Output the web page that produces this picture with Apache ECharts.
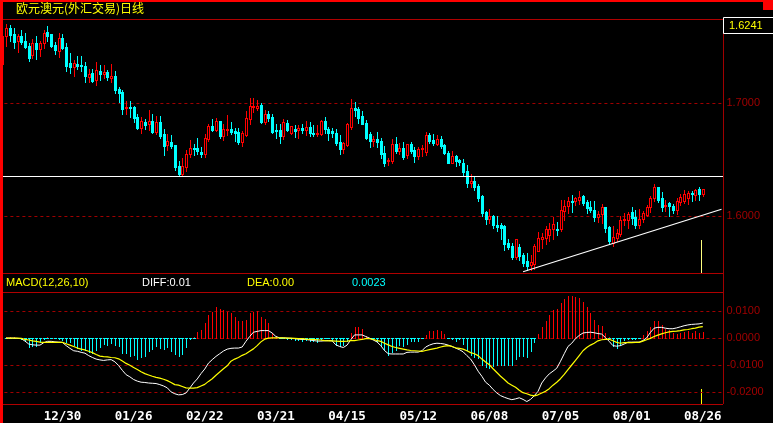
<!DOCTYPE html>
<html>
<head>
    <meta charset="UTF-8">
    <title>欧元澳元</title>
    <script src="https://cdn.jsdelivr.net/npm/echarts@6/dist/echarts.min.js"></script>
    <style>html,body{margin:0;padding:0;background:#000;}</style>
</head>
<body>
    <div id="main" style="width:773px;height:423px;"></div>
    <script>
        var opens = [
            1.7596,1.7664,1.7611,1.7546,1.7593,1.7549,1.7504,1.7428,1.7531,1.7478,
            1.7534,1.7628,1.7611,1.7513,1.7463,1.7575,1.7496,1.7354,1.7322,1.7345,
            1.7336,1.7327,1.7227,1.7265,1.7204,1.7283,1.7257,1.7274,1.7224,1.7239,
            1.7124,1.7097,1.6959,1.6965,1.6965,1.6876,1.6779,1.6832,1.6811,1.6841,
            1.6743,1.6832,1.6726,1.6628,1.6655,1.6628,1.6443,1.6372,1.6434,1.6549,
            1.6602,1.6602,1.6566,1.6549,1.6681,1.6796,1.6761,1.6841,1.6708,1.6761,
            1.6770,1.6752,1.6743,1.6655,1.6717,1.6858,1.6965,1.6959,1.6982,1.6832,
            1.6903,1.6876,1.6761,1.6761,1.6708,1.6823,1.6734,1.6767,1.6761,1.6779,
            1.6761,1.6788,1.6734,1.6728,1.6726,1.6841,1.6770,1.6752,1.6734,1.6655,
            1.6593,1.6628,1.6788,1.6956,1.6947,1.6885,1.6823,1.6726,1.6664,1.6681,
            1.6664,1.6557,1.6487,1.6487,1.6637,1.6575,1.6602,1.6540,1.6637,1.6584,
            1.6531,1.6593,1.6566,1.6717,1.6673,1.6637,1.6681,1.6628,1.6557,1.6469,
            1.6531,1.6496,1.6469,1.6398,1.6292,1.6310,1.6265,1.6177,1.6035,1.5973,
            1.6000,1.5920,1.5920,1.5911,1.5761,1.5734,1.5637,1.5726,1.5655,1.5602,
            1.5566,1.5575,1.5690,1.5796,1.5805,1.5832,1.5885,1.5885,1.5885,1.6044,
            1.6088,1.6133,1.6133,1.6142,1.6177,1.6124,1.6080,1.6053,1.5991,1.6018,
            1.6080,1.5902,1.5761,1.5805,1.5841,1.5964,1.5964,1.6035,1.5991,1.5920,
            1.5973,1.6009,1.6080,1.6159,1.6257,1.6159,1.6088,1.6115,1.6088,1.6053,
            1.6124,1.6133,1.6159,1.6203,1.6186,1.6239,1.6195
        ];
        var closes = [
            1.7661,1.7602,1.7540,1.7593,1.7540,1.7496,1.7398,1.7528,1.7478,1.7531,
            1.7617,1.7593,1.7507,1.7469,1.7575,1.7484,1.7327,1.7319,1.7351,1.7327,
            1.7330,1.7239,1.7257,1.7195,1.7292,1.7257,1.7274,1.7227,1.7239,1.7115,
            1.7088,1.6947,1.6968,1.6959,1.6867,1.6779,1.6841,1.6805,1.6841,1.6740,
            1.6832,1.6708,1.6619,1.6664,1.6619,1.6434,1.6372,1.6443,1.6549,1.6602,
            1.6593,1.6575,1.6549,1.6690,1.6796,1.6761,1.6841,1.6708,1.6770,1.6770,
            1.6743,1.6734,1.6655,1.6734,1.6867,1.6973,1.6973,1.6976,1.6832,1.6903,
            1.6867,1.6743,1.6752,1.6708,1.6832,1.6761,1.6796,1.6755,1.6776,1.6761,
            1.6788,1.6734,1.6726,1.6734,1.6841,1.6770,1.6734,1.6737,1.6646,1.6593,
            1.6646,1.6814,1.6956,1.6938,1.6867,1.6814,1.6690,1.6664,1.6681,1.6655,
            1.6549,1.6469,1.6496,1.6637,1.6575,1.6602,1.6522,1.6637,1.6575,1.6531,
            1.6593,1.6602,1.6717,1.6664,1.6646,1.6681,1.6619,1.6557,1.6469,1.6531,
            1.6487,1.6481,1.6389,1.6292,1.6310,1.6257,1.6159,1.6027,1.5973,1.6000,
            1.5920,1.5903,1.5894,1.5752,1.5726,1.5637,1.5796,1.5646,1.5584,1.5557,
            1.5593,1.5734,1.5805,1.5814,1.5885,1.5885,1.5929,1.5876,1.6053,1.6088,
            1.6133,1.6124,1.6159,1.6168,1.6115,1.6071,1.6053,1.5991,1.6018,1.6080,
            1.5894,1.5779,1.5814,1.5849,1.5964,1.5973,1.6018,1.5982,1.5920,1.5973,
            1.6027,1.6080,1.6159,1.6257,1.6142,1.6080,1.6097,1.6088,1.6053,1.6133,
            1.6168,1.6195,1.6203,1.6195,1.6230,1.6195,1.6241
        ];
        var lows = [
            1.7504,1.7552,1.7484,1.7454,1.7522,1.7484,1.7372,1.7395,1.7389,1.7419,
            1.7487,1.7549,1.7499,1.7434,1.7407,1.7475,1.7283,1.7268,1.7239,1.7301,
            1.7283,1.7186,1.7189,1.7186,1.7159,1.7204,1.7221,1.7204,1.7186,1.7088,
            1.7009,1.6903,1.6903,1.6879,1.6832,1.6770,1.6734,1.6770,1.6761,1.6734,
            1.6726,1.6690,1.6540,1.6584,1.6602,1.6407,1.6354,1.6354,1.6398,1.6522,
            1.6540,1.6549,1.6522,1.6522,1.6664,1.6752,1.6752,1.6690,1.6673,1.6717,
            1.6726,1.6664,1.6637,1.6619,1.6708,1.6814,1.6920,1.6938,1.6820,1.6814,
            1.6841,1.6734,1.6690,1.6646,1.6681,1.6752,1.6726,1.6699,1.6690,1.6734,
            1.6717,1.6708,1.6708,1.6708,1.6717,1.6734,1.6673,1.6699,1.6628,1.6549,
            1.6558,1.6619,1.6770,1.6885,1.6823,1.6814,1.6681,1.6611,1.6619,1.6611,
            1.6513,1.6443,1.6451,1.6469,1.6557,1.6549,1.6504,1.6513,1.6557,1.6478,
            1.6504,1.6531,1.6540,1.6646,1.6628,1.6628,1.6602,1.6549,1.6469,1.6469,
            1.6443,1.6451,1.6354,1.6257,1.6257,1.6230,1.6133,1.6000,1.5929,1.5938,
            1.5894,1.5867,1.5797,1.5699,1.5708,1.5619,1.5619,1.5611,1.5557,1.5522,
            1.5522,1.5531,1.5690,1.5717,1.5752,1.5779,1.5796,1.5832,1.5867,1.5964,
            1.6027,1.6035,1.6097,1.6106,1.6097,1.6027,1.6035,1.5956,1.5947,1.5938,
            1.5858,1.5752,1.5734,1.5779,1.5823,1.5920,1.5894,1.5929,1.5894,1.5894,
            1.5947,1.6000,1.6035,1.6133,1.6124,1.6044,1.6044,1.6000,1.6027,1.6018,
            1.6097,1.6115,1.6106,1.6133,1.6142,1.6142,1.6177
        ];
        var highs = [
            1.7699,1.7690,1.7661,1.7611,1.7646,1.7620,1.7528,1.7566,1.7593,1.7546,
            1.7646,1.7681,1.7611,1.7543,1.7620,1.7611,1.7531,1.7440,1.7381,1.7416,
            1.7416,1.7363,1.7298,1.7298,1.7363,1.7336,1.7336,1.7292,1.7345,1.7283,
            1.7139,1.7115,1.7018,1.7018,1.6973,1.6903,1.6876,1.6858,1.6938,1.6903,
            1.6885,1.6885,1.6770,1.6726,1.6717,1.6628,1.6487,1.6513,1.6584,1.6673,
            1.6637,1.6690,1.6611,1.6726,1.6814,1.6858,1.6867,1.6841,1.6814,1.6894,
            1.6832,1.6779,1.6779,1.6752,1.6929,1.7044,1.7044,1.7027,1.6997,1.6938,
            1.6929,1.6903,1.6814,1.6814,1.6858,1.6850,1.6796,1.6805,1.6805,1.6814,
            1.6841,1.6832,1.6805,1.6805,1.6850,1.6876,1.6788,1.6779,1.6770,1.6717,
            1.6655,1.6823,1.7035,1.7009,1.6965,1.6929,1.6850,1.6743,1.6708,1.6743,
            1.6690,1.6619,1.6513,1.6681,1.6699,1.6646,1.6655,1.6637,1.6655,1.6611,
            1.6611,1.6628,1.6743,1.6734,1.6726,1.6717,1.6708,1.6637,1.6575,1.6575,
            1.6540,1.6504,1.6504,1.6451,1.6372,1.6345,1.6283,1.6186,1.6044,1.6062,
            1.6009,1.6000,1.5935,1.5920,1.5796,1.5761,1.5796,1.5752,1.5672,1.5672,
            1.5655,1.5752,1.5858,1.5849,1.5911,1.5938,1.5991,1.5947,1.6142,1.6142,
            1.6168,1.6186,1.6168,1.6221,1.6186,1.6142,1.6133,1.6133,1.6044,1.6106,
            1.6080,1.5911,1.5911,1.5885,1.6000,1.6027,1.6035,1.6080,1.6053,1.6062,
            1.6044,1.6097,1.6177,1.6283,1.6257,1.6212,1.6142,1.6124,1.6106,1.6159,
            1.6195,1.6230,1.6221,1.6221,1.6239,1.6257,1.6241
        ];
        var macdHist = [
            .0005,.0005,.0004,.0002,-.0002,-.0009,-.0033,-.0028,-.0028,-.0014,
            -.0002,.0004,-.0001,-.0001,-.0004,-.0006,-.0016,-.0014,-.0025,-.0035,
            -.0043,-.0046,-.0053,-.0056,-.0043,-.0033,-.0023,-.0026,-.0019,-.0025,
            -.0031,-.0056,-.0056,-.0065,-.0062,-.0077,-.0070,-.0065,-.0049,-.0041,
            -.0028,-.0037,-.0041,-.0033,-.0049,-.0058,-.0065,-.0058,-.0033,-.0004,
            .0005,.0023,.0031,.0056,.0086,.0099,.0115,.0107,.0105,.0099,
            .0095,.0080,.0064,.0065,.0068,.0093,.0099,.0101,.0078,.0070,
            .0058,.0019,.0009,.0002,-.0001,-.0004,-.0005,-.0006,-.0006,-.0009,
            -.0006,-.0012,-.0009,-.0015,-.0002,-.0001,-.0001,-.0006,-.0025,-.0028,
            -.0025,-.0009,.0019,.0041,.0041,.0033,.0009,.0001,-.0002,-.0012,
            -.0025,-.0043,-.0062,-.0053,-.0043,-.0025,-.0031,-.0021,-.0012,-.0011,
            -.0009,.0001,.0012,.0025,.0027,.0031,.0028,.0015,.0001,-.0002,
            -.0012,-.0002,-.0021,-.0043,-.0062,-.0070,-.0074,-.0099,-.0109,-.0111,
            -.0105,-.0099,-.0101,-.0101,-.0101,-.0101,-.0077,-.0068,-.0068,-.0070,
            -.0049,-.0016,.0015,.0041,.0062,.0086,.0105,.0107,.0130,.0144,
            .0157,.0157,.0154,.0148,.0136,.0115,.0095,.0068,.0049,.0046,
            .0019,.0006,-.0031,-.0037,-.0025,-.0006,-.0005,-.0004,-.0002,-.0001,
            .0012,.0025,.0043,.0064,.0062,.0049,.0033,.0031,.0019,.0016,
            .0019,.0022,.0027,.0019,.0025,.0019,.0023
        ];
        var macdDiff = [
            .0000,.0000,.0000,-.0001,-.0002,-.0011,-.0022,-.0025,-.0026,-.0026,
            -.0017,-.0012,-.0012,-.0014,-.0015,-.0016,-.0028,-.0038,-.0047,-.0049,
            -.0053,-.0056,-.0065,-.0072,-.0078,-.0081,-.0083,-.0081,-.0080,-.0088,
            -.0102,-.0120,-.0136,-.0144,-.0154,-.0160,-.0164,-.0165,-.0167,-.0168,
            -.0169,-.0173,-.0178,-.0185,-.0200,-.0207,-.0211,-.0210,-.0204,-.0186,
            -.0167,-.0152,-.0132,-.0115,-.0093,-.0080,-.0068,-.0058,-.0048,-.0041,
            -.0038,-.0037,-.0037,-.0033,-.0012,.0006,.0022,.0025,.0028,.0028,
            .0028,.0019,.0006,.0001,.0001,.0000,-.0001,-.0002,-.0004,-.0005,
            -.0005,-.0007,-.0009,-.0011,-.0011,-.0010,-.0009,-.0010,-.0025,-.0031,
            -.0035,-.0026,-.0006,.0012,.0012,.0012,.0006,.0000,-.0007,-.0014,
            -.0028,-.0046,-.0058,-.0059,-.0059,-.0059,-.0059,-.0053,-.0052,-.0052,
            -.0052,-.0047,-.0033,-.0026,-.0021,-.0019,-.0020,-.0022,-.0026,-.0031,
            -.0037,-.0043,-.0051,-.0065,-.0078,-.0099,-.0123,-.0142,-.0164,-.0175,
            -.0191,-.0204,-.0214,-.0220,-.0225,-.0229,-.0226,-.0222,-.0228,-.0236,
            -.0228,-.0214,-.0198,-.0167,-.0148,-.0133,-.0123,-.0112,-.0086,-.0058,
            -.0031,-.0019,-.0002,.0010,.0019,.0021,.0022,.0020,.0017,.0015,
            .0002,-.0012,-.0028,-.0030,-.0028,-.0022,-.0015,-.0015,-.0015,-.0015,
            -.0009,.0001,.0021,.0037,.0040,.0040,.0037,.0035,.0035,.0038,
            .0042,.0046,.0049,.0051,.0052,.0053,.0056
        ];
        var macdDea = [
            .0000,.0000,.0000,.0000,-.0001,-.0005,-.0007,-.0010,-.0012,-.0015,
            -.0016,-.0016,-.0016,-.0016,-.0016,-.0016,-.0021,-.0026,-.0031,-.0037,
            -.0041,-.0044,-.0049,-.0054,-.0061,-.0067,-.0069,-.0070,-.0072,-.0073,
            -.0077,-.0085,-.0094,-.0101,-.0109,-.0117,-.0125,-.0132,-.0137,-.0142,
            -.0146,-.0149,-.0153,-.0158,-.0165,-.0173,-.0175,-.0180,-.0185,-.0186,
            -.0186,-.0184,-.0178,-.0172,-.0161,-.0151,-.0138,-.0126,-.0114,-.0103,
            -.0086,-.0078,-.0072,-.0064,-.0058,-.0049,-.0040,-.0028,-.0014,-.0004,
            .0000,.0001,.0001,.0001,.0001,.0000,.0000,-.0001,-.0002,-.0002,
            -.0004,-.0005,-.0005,-.0006,-.0007,-.0009,-.0010,-.0010,-.0011,-.0012,
            -.0012,-.0011,-.0009,-.0009,-.0007,-.0005,-.0002,-.0002,-.0005,-.0009,
            -.0012,-.0019,-.0025,-.0031,-.0035,-.0038,-.0041,-.0044,-.0046,-.0047,
            -.0048,-.0049,-.0046,-.0043,-.0040,-.0037,-.0033,-.0030,-.0028,-.0031,
            -.0036,-.0038,-.0041,-.0047,-.0054,-.0058,-.0065,-.0078,-.0089,-.0099,
            -.0114,-.0128,-.0142,-.0154,-.0167,-.0175,-.0183,-.0194,-.0203,-.0207,
            -.0212,-.0215,-.0211,-.0204,-.0198,-.0188,-.0175,-.0164,-.0151,-.0135,
            -.0117,-.0100,-.0083,-.0065,-.0047,-.0035,-.0026,-.0019,-.0010,-.0006,
            -.0005,-.0004,-.0010,-.0016,-.0019,-.0017,-.0017,-.0017,-.0016,-.0016,
            -.0011,-.0006,-.0001,.0006,.0011,.0016,.0020,.0023,.0025,.0026,
            .0028,.0031,.0032,.0035,.0037,.0041,.0043
        ];
        var dateLabels = ['12/30','01/26','02/22','03/21','04/15','05/12','06/08','07/05','08/01','08/26'];
        var priceTicks = [1.7, 1.6];
        var macdTicks = [0.01, 0, -0.01, -0.02];
        var supportLevel = 1.6354;

        // 192 slots, a date shows every 19 bars starting at bar 15
        var categories = [];
        for (var i = 0; i < 192; i++) {
            var k = (i - 15) / 19;
            categories.push(k >= 0 && k === Math.floor(k) && dateLabels[k] ? dateLabels[k] : '');
        }
        var candleData = [];
        for (var j = 0; j < opens.length; j++) {
            candleData.push([j, opens[j], closes[j], lows[j], highs[j]]);
        }
        var histData = macdHist.map(function (v, n) { return [n, v]; });

        function box(x, y, w, h, color) {
            return { type: 'rect', shape: { x: x, y: y, width: w, height: h }, style: { fill: color } };
        }
        // candles and histogram go through custom series so they land on whole pixels
        function renderCandle(params, api) {
            var idx = api.value(0), up = api.value(2) >= api.value(1);
            var color = up ? '#ff0000' : '#00ffff';
            var xc = Math.round(api.coord([idx, api.value(1)])[0]);
            var yOpen = Math.round(api.coord([idx, api.value(1)])[1]);
            var yClose = Math.round(api.coord([idx, api.value(2)])[1]);
            var yLow = Math.round(api.coord([idx, api.value(3)])[1]);
            var yHigh = Math.round(api.coord([idx, api.value(4)])[1]);
            var top = Math.min(yOpen, yClose), h = Math.abs(yOpen - yClose) + 1;
            var kids = [box(xc, yHigh, 1, yLow - yHigh + 1, color), box(xc - 1, top, 3, h, color)];
            if (up && h > 2) kids.push(box(xc, top + 1, 1, h - 2, '#000'));
            return { type: 'group', children: kids };
        }
        function renderHist(params, api) {
            var v = api.value(1);
            var p = api.coord([api.value(0), v]), base = api.coord([api.value(0), 0]);
            var x = Math.round(p[0]), y0 = Math.round(base[1]), y1 = Math.round(p[1]);
            var kids = [box(x, Math.min(y0, y1), 1, Math.abs(y1 - y0) + 1, v >= 0 ? '#ff0000' : '#00ffff')];
            // the cyan dash on the zero line
            if (v <= 0.0006) kids.push(box(x - 1, y0, 3, 1, '#00ffff'));
            return { type: 'group', children: kids };
        }

        var darkRed = '#a00000';
        var hLines = [19, 273, 292, 404];
        var frame = [
            box(0, 0, 773, 2, '#f00'),
            box(0, 0, 3, 423, '#f00'),
            box(3, 36, 1, 29, '#f00'),
            box(763, 2, 10, 8, '#f00'),
            box(723, 19, 1, 385, darkRed),
            { type: 'rect', shape: { x: 723.5, y: 17.5, width: 50, height: 16 }, style: { fill: '#000', stroke: '#fff', lineWidth: 1 } },
            box(701, 240, 1, 33, '#ffff80'),
            box(701, 389, 1, 15, '#ffff00')
        ];
        hLines.forEach(function (y) {
            frame.push(box(3, y, 720, 1, '#b00000'));
        });
        var labelFont = '11px "Liberation Sans"';
        function label(x, y, text, color, font) {
            return { type: 'text', x: x, y: y, style: { text: text, fill: color, font: font || labelFont, textVerticalAlign: 'middle' } };
        }
        frame.push(label(16, 8, '欧元澳元(外汇交易)日线', '#ffff00', '12px "Noto Sans CJK SC"'));
        frame.push(label(729, 26, closes[closes.length - 1].toFixed(4), '#ffff00'));
        frame.push(label(6, 283, 'MACD(12,26,10)', '#ffff00'));
        frame.push(label(142, 283, 'DIFF:0.01', '#ffffff'));
        frame.push(label(247, 283, 'DEA:0.00', '#ffff00'));
        frame.push(label(352, 283, '0.0023', '#00ffff'));

        var chartDemo = echarts.init(document.getElementById('main'));
        chartDemo.setOption({
            animation: false,
            backgroundColor: '#000',
            grid: [
                { left: 4.4, width: 719, top: 19, height: 254 },
                { left: 4.4, width: 719, top: 292, height: 112.5 }
            ],
            xAxis: [
                { type: 'category', gridIndex: 0, data: categories, show: false },
                {
                    type: 'category', gridIndex: 1, data: categories,
                    axisLine: { show: false }, axisTick: { show: false },
                    axisLabel: {
                        color: '#fff', fontFamily: 'DejaVu Sans Mono', fontWeight: 'bold', fontSize: 12.5, margin: 6,
                        interval: function (idx, v) { return v !== ''; }
                    }
                }
            ],
            yAxis: [
                {
                    type: 'value', gridIndex: 0, position: 'right', min: 1.54956, max: 1.77434,
                    axisLine: { show: false },
                    axisTick: { show: false, customValues: priceTicks },
                    splitLine: { show: true, lineStyle: { color: darkRed, type: [3, 3], width: 1 } },
                    axisLabel: {
                        customValues: priceTicks, color: darkRed, fontSize: 11, fontFamily: 'Liberation Sans', margin: 3,
                        formatter: function (v) { return v.toFixed(4); }
                    }
                },
                {
                    type: 'value', gridIndex: 1, position: 'right', min: -0.02451, max: 0.01716,
                    axisLine: { show: false },
                    axisTick: { show: false, customValues: macdTicks },
                    splitLine: { show: true, lineStyle: { color: darkRed, type: [3, 3], width: 1 } },
                    axisLabel: {
                        customValues: macdTicks, color: darkRed, fontSize: 11, fontFamily: 'Liberation Sans', margin: 3,
                        formatter: function (v) { return v.toFixed(4); }
                    }
                }
            ],
            series: [
                {
                    type: 'custom', xAxisIndex: 0, yAxisIndex: 0, data: candleData, renderItem: renderCandle, clip: false,
                    encode: { x: 0, y: [1, 2, 3, 4] },
                    silent: true
                },
                {
                    // trend lines drawn on the price axes
                    type: 'line', xAxisIndex: 0, yAxisIndex: 0, data: [], silent: true,
                    markLine: {
                        silent: true, symbol: 'none', animation: false, label: { show: false },
                        lineStyle: { color: '#fff', type: 'solid', width: 1.2 },
                        data: [
                            [{ x: 3, yAxis: supportLevel }, { x: 723, yAxis: supportLevel }],
                            [{ xAxis: 138, yAxis: 1.5507 }, { xAxis: 191, yAxis: 1.6060 }]
                        ]
                    }
                },
                {
                    type: 'custom', xAxisIndex: 1, yAxisIndex: 1, data: histData, renderItem: renderHist, clip: false,
                    encode: { x: 0, y: 1 },
                    silent: true
                },
                { type: 'line', xAxisIndex: 1, yAxisIndex: 1, data: macdDiff, showSymbol: false, lineStyle: { color: '#fff', width: 1 } },
                { type: 'line', xAxisIndex: 1, yAxisIndex: 1, data: macdDea, showSymbol: false, lineStyle: { color: '#ffff00', width: 1.2 } }
            ],
            graphic: frame
        });
    </script>
</body>
</html>
